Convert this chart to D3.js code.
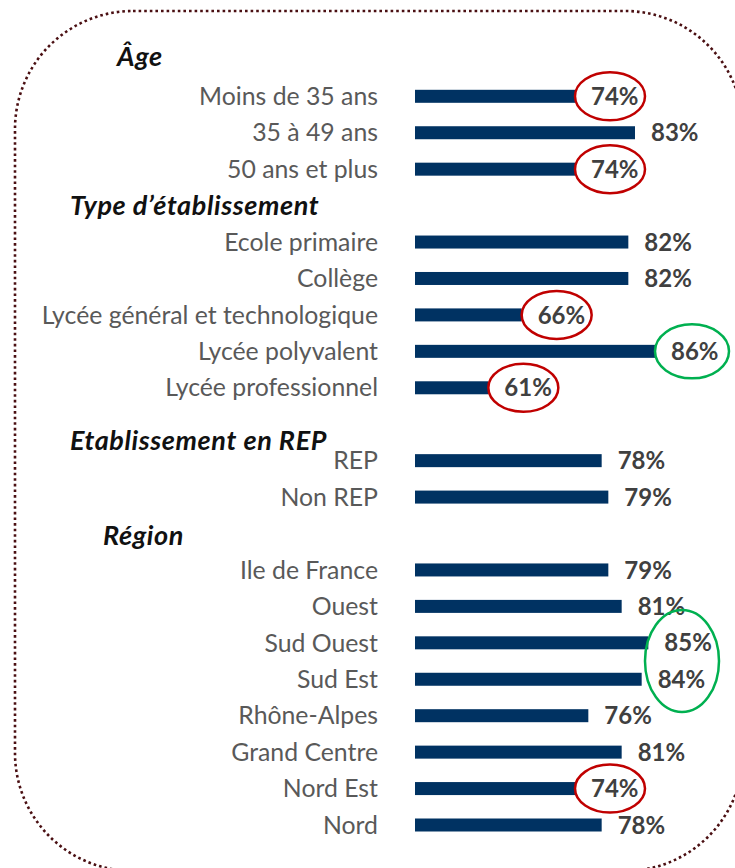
<!DOCTYPE html>
<html>
<head>
<meta charset="utf-8">
<script src="https://cdn.jsdelivr.net/npm/d3@7"></script>
<style>
  body { margin: 0; background: #fff; }
  svg { display: block; }
</style>
</head>
<body>
<div id="content"></div>
<script>
var width = 735;
var height = 868;

// section headers
var groups = ["Âge", "Type d’établissement", "Etablissement en REP", "Région"];
var groupSizes = [3, 5, 2, 8];

var categories = [
  "Moins de 35 ans", "35 à 49 ans", "50 ans et plus",
  "Ecole primaire", "Collège", "Lycée général et technologique", "Lycée polyvalent", "Lycée professionnel",
  "REP", "Non REP",
  "Ile de France", "Ouest", "Sud Ouest", "Sud Est", "Rhône-Alpes", "Grand Centre", "Nord Est", "Nord"
];
var values = [74, 83, 74, 82, 82, 66, 86, 61, 78, 79, 79, 81, 85, 84, 76, 81, 74, 78];

// highlighted answers: low ones circled red, high ones green
var lowMarks = ["Moins de 35 ans", "50 ans et plus", "Lycée général et technologique", "Lycée professionnel", "Nord Est"];
var highMarks = [["Lycée polyvalent"], ["Sud Ouest", "Sud Est"]];

var svg = d3.select('#content').append('svg').attr('width', width).attr('height', height);

// dotted rounded frame
svg.append('rect')
  .attr('x', 15).attr('y', 11)
  .attr('width', 728).attr('height', 860)
  .attr('rx', 118).attr('ry', 118)
  .style('fill', 'none')
  .style('stroke', '#4a0f12')
  .style('stroke-width', 2.6)
  .style('stroke-dasharray', '2.6,3');

// row slots: each group starts after a header slot, REP block has a spare slot before it
var slotStart = [0, 4, 10, 13];
var headerSlot = [-1.1, 3, 9.45, 12.05];
var headerX = [117, 70, 70, 103];

var rowSlot = [];
groupSizes.forEach(function(n, g){
  for (var k = 0; k < n; k++) rowSlot.push(slotStart[g] + k);
});

var y = d3.scaleLinear().domain([0, 20]).range([96.3, 825]);
var x = d3.scaleLinear().domain([50, 86]).range([415, 655]);

var rows = categories.map(function(c, i){
  return { name: c, value: values[i], slot: rowSlot[i] };
});

svg.selectAll('.header')
  .data(groups).enter().append('text')
  .attr('class', 'header')
  .attr('x', function(d,i){ return headerX[i]; })
  .attr('y', function(d,i){ return y(headerSlot[i]); })
  .attr('dy', '0.35em')
  .text(function(d){ return d; })
  .style('font-family', 'Lato, sans-serif')
  .style('font-weight', 'bold')
  .style('font-style', 'italic')
  .style('font-size', '27px')
  .style('letter-spacing', '0.6px')
  .style('fill', '#111');

var bars = svg.selectAll('.bars')
  .data(rows).enter().append('g')
  .attr('class', 'bars');

bars.append('rect')
  .attr('x', x(50))
  .attr('y', function(d){ return y(d.slot) - 6.5; })
  .attr('width', function(d){ return x(d.value) - x(50); })
  .attr('height', 13)
  .style('fill', '#003262');

bars.append('text')
  .attr('x', 378)
  .attr('y', function(d){ return y(d.slot); })
  .attr('dy', '0.35em')
  .text(function(d){ return d.name; })
  .style('text-anchor', 'end')
  .style('font-family', 'Lato, sans-serif')
  .style('font-size', '24.8px')
  .style('fill', '#595959');

bars.append('text')
  .attr('x', function(d){ return x(d.value) + 16; })
  .attr('y', function(d){ return y(d.slot); })
  .attr('dy', '0.36em')
  .text(function(d){ return d.value + '%'; })
  .style('font-family', 'Lato, sans-serif')
  .style('font-weight', 'bold')
  .style('font-size', '24px')
  .style('fill', '#404040');

function rowOf(name) {
  return rows[categories.indexOf(name)];
}

// red ellipses round the weak scores
svg.selectAll('.low')
  .data(lowMarks).enter().append('ellipse')
  .attr('class', 'low')
  .attr('cx', function(d){ return x(rowOf(d).value) + 35; })
  .attr('cy', function(d){ return y(rowOf(d).slot); })
  .attr('rx', 35).attr('ry', 24)
  .style('fill', 'none')
  .style('stroke', '#c00000')
  .style('stroke-width', 2.5);

// green ellipses round the best scores
svg.selectAll('.high')
  .data(highMarks).enter().append('ellipse')
  .attr('class', 'high')
  .attr('cx', function(d){
    return d3.mean(d, function(n){ return x(rowOf(n).value); }) + 37;
  })
  .attr('cy', function(d){
    return d3.mean(d, function(n){ return y(rowOf(n).slot); });
  })
  .attr('rx', 37)
  .attr('ry', function(d){ return d.length > 1 ? 51 : 27; })
  .style('fill', 'none')
  .style('stroke', '#00b050')
  .style('stroke-width', 2.5);
</script>
</body>
</html>
